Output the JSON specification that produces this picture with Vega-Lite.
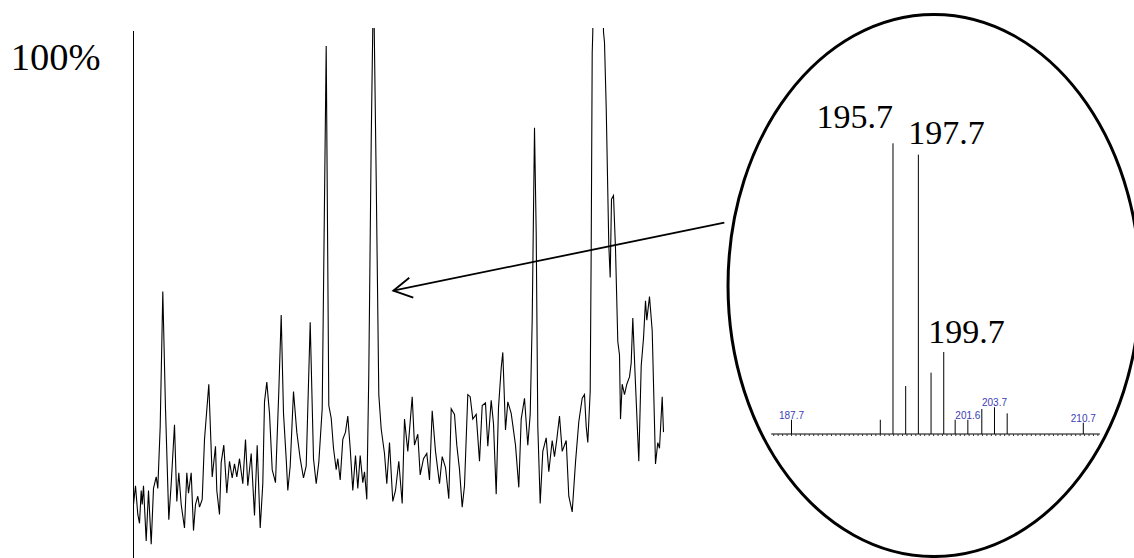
{
  "$schema": "https://vega.github.io/schema/vega-lite/v6.json",
  "width": 1134,
  "height": 530,
  "autosize": "none",
  "padding": {"top": 28, "left": 0, "right": 0, "bottom": 0},
  "background": "white",
  "config": {"view": {"stroke": null}},
  "datasets": {
    "chrom": [
      {"t":0,"i":9.3},{"t":0.2,"i":12.9},{"t":0.43,"i":7.4},{"t":0.6,"i":5.7},{"t":0.77,"i":12.0},{"t":0.87,"i":9.3},{"t":1.0,"i":12.9},{"t":1.27,"i":2.3},{"t":1.5,"i":12.0},{"t":1.77,"i":1.7},{"t":2.0,"i":12.4},{"t":2.27,"i":14.6},{"t":2.43,"i":12.4},{"t":2.67,"i":24.3},{"t":2.93,"i":50.2},{"t":3.2,"i":27.7},{"t":3.53,"i":6.4},{"t":3.77,"i":13.3},{"t":4.1,"i":24.6},{"t":4.33,"i":9.9},{"t":4.53,"i":15.4},{"t":4.77,"i":9.3},{"t":5.1,"i":4.8},{"t":5.33,"i":15.4},{"t":5.5,"i":11.5},{"t":5.77,"i":15.4},{"t":6.0,"i":4.3},{"t":6.2,"i":9.3},{"t":6.43,"i":10.9},{"t":6.6,"i":8.8},{"t":6.87,"i":10.3},{"t":7.1,"i":21.8},{"t":7.53,"i":32.4},{"t":7.87,"i":14.6},{"t":8.2,"i":20.5},{"t":8.33,"i":12.0},{"t":8.6,"i":7.4},{"t":8.77,"i":17.4},{"t":9.03,"i":20.7},{"t":9.33,"i":11.5},{"t":9.6,"i":17.6},{"t":9.87,"i":14.4},{"t":10.1,"i":17.1},{"t":10.33,"i":14.6},{"t":10.6,"i":18.1},{"t":10.93,"i":13.3},{"t":11.2,"i":21.8},{"t":11.43,"i":12.9},{"t":11.77,"i":19.1},{"t":12.1,"i":7.2},{"t":12.37,"i":20.7},{"t":12.67,"i":4.8},{"t":12.93,"i":13.3},{"t":13.1,"i":29.0},{"t":13.33,"i":32.8},{"t":13.6,"i":26.8},{"t":13.87,"i":16.0},{"t":14.2,"i":13.5},{"t":14.53,"i":31.0},{"t":14.77,"i":45.7},{"t":15.0,"i":26.8},{"t":15.27,"i":18.1},{"t":15.43,"i":12.0},{"t":15.67,"i":16.7},{"t":16.0,"i":31.0},{"t":16.33,"i":23.2},{"t":16.67,"i":18.1},{"t":17.0,"i":14.4},{"t":17.27,"i":16.7},{"t":17.67,"i":44.3},{"t":18.0,"i":18.1},{"t":18.27,"i":13.3},{"t":18.53,"i":17.4},{"t":18.87,"i":27.7},{"t":19.27,"i":97.3},{"t":19.53,"i":28.3},{"t":19.77,"i":25.9},{"t":20.0,"i":20.1},{"t":20.27,"i":16.0},{"t":20.43,"i":18.1},{"t":20.67,"i":14.0},{"t":20.93,"i":21.8},{"t":21.2,"i":23.2},{"t":21.43,"i":26.3},{"t":21.67,"i":20.1},{"t":21.93,"i":12.0},{"t":22.2,"i":18.7},{"t":22.43,"i":12.4},{"t":22.67,"i":18.7},{"t":22.93,"i":13.5},{"t":23.1,"i":15.6},{"t":23.33,"i":10.3},{"t":23.53,"i":34.4},{"t":23.77,"i":78.9},{"t":23.95,"i":104},{"t":24.05,"i":104},{"t":24.27,"i":71.9},{"t":24.53,"i":30.4},{"t":24.77,"i":23.8},{"t":25.1,"i":19.1},{"t":25.33,"i":13.3},{"t":25.6,"i":21.2},{"t":25.93,"i":9.9},{"t":26.2,"i":12.0},{"t":26.53,"i":17.6},{"t":26.87,"i":9.5},{"t":27.1,"i":25.7},{"t":27.43,"i":19.5},{"t":27.87,"i":30.0},{"t":28.1,"i":20.7},{"t":28.43,"i":22.8},{"t":28.67,"i":15.0},{"t":29.0,"i":18.1},{"t":29.33,"i":19.1},{"t":29.6,"i":14.0},{"t":29.87,"i":27.3},{"t":30.2,"i":19.5},{"t":30.6,"i":13.3},{"t":30.87,"i":18.5},{"t":31.2,"i":16.4},{"t":31.53,"i":10.4},{"t":31.77,"i":27.7},{"t":32.1,"i":26.6},{"t":32.33,"i":20.7},{"t":32.6,"i":16.0},{"t":32.87,"i":8.8},{"t":33.1,"i":12.9},{"t":33.43,"i":30.4},{"t":33.67,"i":30.0},{"t":33.93,"i":25.7},{"t":34.27,"i":26.6},{"t":34.6,"i":17.6},{"t":34.87,"i":28.3},{"t":35.2,"i":28.8},{"t":35.43,"i":20.5},{"t":35.77,"i":29.3},{"t":36.0,"i":24.8},{"t":36.27,"i":11.3},{"t":36.5,"i":27.9},{"t":36.77,"i":35.5},{"t":36.93,"i":38.5},{"t":37.2,"i":23.6},{"t":37.43,"i":29.0},{"t":37.77,"i":26.8},{"t":38.2,"i":20.7},{"t":38.53,"i":12.6},{"t":38.77,"i":25.7},{"t":39.1,"i":29.7},{"t":39.43,"i":20.7},{"t":39.67,"i":26.6},{"t":39.87,"i":44.7},{"t":40.1,"i":81.6},{"t":40.27,"i":61.6},{"t":40.43,"i":24.3},{"t":40.67,"i":9.5},{"t":40.93,"i":19.5},{"t":41.27,"i":22.1},{"t":41.53,"i":15.6},{"t":41.87,"i":21.6},{"t":42.1,"i":18.5},{"t":42.33,"i":21.8},{"t":42.6,"i":26.3},{"t":42.87,"i":19.5},{"t":43.27,"i":21.6},{"t":43.53,"i":10.9},{"t":43.87,"i":7.9},{"t":44.2,"i":17.4},{"t":44.53,"i":25.2},{"t":44.87,"i":29.7},{"t":45.1,"i":30.4},{"t":45.27,"i":24.3},{"t":45.43,"i":21.2},{"t":45.67,"i":31.0},{"t":45.77,"i":58.4},{"t":45.87,"i":95.9},{"t":45.93,"i":100},{"t":46.0,"i":115},{"t":46.9,"i":115},{"t":47.0,"i":100},{"t":47.1,"i":98.0},{"t":47.27,"i":85.6},{"t":47.53,"i":59.1},{"t":47.67,"i":52.9},{"t":47.8,"i":67.9},{"t":48.0,"i":68.6},{"t":48.2,"i":58.4},{"t":48.43,"i":40.6},{"t":48.6,"i":38.0},{"t":48.7,"i":25.7},{"t":48.87,"i":32.4},{"t":49.1,"i":30.4},{"t":49.33,"i":32.4},{"t":49.6,"i":33.8},{"t":49.77,"i":36.5},{"t":49.93,"i":45.1},{"t":50.2,"i":32.4},{"t":50.53,"i":17.6},{"t":50.77,"i":35.9},{"t":51.0,"i":41.2},{"t":51.2,"i":48.4},{"t":51.33,"i":44.7},{"t":51.6,"i":49.2},{"t":51.87,"i":42.7},{"t":52.2,"i":17.1},{"t":52.43,"i":21.2},{"t":52.6,"i":20.1},{"t":52.87,"i":30.0},{"t":53.0,"i":23.2}
    ],
    "arrow": [
      {"part":"shaft","ord":1,"t":25.98,"i":50.35},
      {"part":"shaft","ord":2,"t":59.08,"i":63.4},
      {"part":"head","ord":1,"t":27.58,"i":52.84},
      {"part":"head","ord":2,"t":25.98,"i":50.35},
      {"part":"head","ord":3,"t":27.98,"i":49.0}
    ],
    "spectrum": [
      {"mz":187.7,"ab":4.9},{"mz":194.7,"ab":4.9},{"mz":195.7,"ab":100},{"mz":196.7,"ab":16.5},{"mz":197.7,"ab":96.1},{"mz":198.7,"ab":21.1},{"mz":199.7,"ab":28.2},{"mz":200.6,"ab":4.9},{"mz":201.6,"ab":4.9},{"mz":202.7,"ab":8.6},{"mz":203.7,"ab":9.2},{"mz":204.7,"ab":7.1},{"mz":210.7,"ab":3.9}
    ],
    "minorTicks": [
      {"mz":186.3},{"mz":186.65},{"mz":187},{"mz":187.35},{"mz":187.7},{"mz":188.05},{"mz":188.4},{"mz":188.75},{"mz":189.1},{"mz":189.45},{"mz":189.8},{"mz":190.15},{"mz":190.5},{"mz":190.85},{"mz":191.2},{"mz":191.55},{"mz":191.9},{"mz":192.25},{"mz":192.6},{"mz":192.95},{"mz":193.3},{"mz":193.65},{"mz":194},{"mz":194.35},{"mz":194.7},{"mz":195.05},{"mz":195.4},{"mz":195.75},{"mz":196.1},{"mz":196.45},{"mz":196.8},{"mz":197.15},{"mz":197.5},{"mz":197.85},{"mz":198.2},{"mz":198.55},{"mz":198.9},{"mz":199.25},{"mz":199.6},{"mz":199.95},{"mz":200.3},{"mz":200.65},{"mz":201},{"mz":201.35},{"mz":201.7},{"mz":202.05},{"mz":202.4},{"mz":202.75},{"mz":203.1},{"mz":203.45},{"mz":203.8},{"mz":204.15},{"mz":204.5},{"mz":204.85},{"mz":205.2},{"mz":205.55},{"mz":205.9},{"mz":206.25},{"mz":206.6},{"mz":206.95},{"mz":207.3},{"mz":207.65},{"mz":208},{"mz":208.35},{"mz":208.7},{"mz":209.05},{"mz":209.4},{"mz":209.75},{"mz":210.1},{"mz":210.45},{"mz":210.8},{"mz":211.15},{"mz":211.5},{"mz":211.85}
    ]
  },
  "layer": [
    {
      "layer": [
        {
          "data": {"name": "chrom"},
          "mark": {"type": "line", "color": "black", "strokeWidth": 1.1, "clip": true},
          "encoding": {
            "x": {"field": "t", "type": "quantitative", "axis": null, "scale": {"domain": [0, 53], "range": [133.5, 663.5], "nice": false, "zero": false}},
            "y": {"field": "i", "type": "quantitative", "axis": null, "scale": {"domain": [0, 100], "range": [525, 4], "nice": false, "zero": false}}
          }
        },
        {
          "data": {"values": [{}]},
          "mark": {"type": "rule", "color": "black", "strokeWidth": 1},
          "encoding": {
            "x": {"datum": 0, "type": "quantitative", "axis": null},
            "y": {"datum": 100.2, "type": "quantitative", "axis": null},
            "y2": {"datum": -1}
          }
        },
        {
          "data": {"values": [{}]},
          "mark": {"type": "text", "text": "100%", "font": "Liberation Serif", "fontSize": 38.5, "align": "left", "baseline": "alphabetic", "color": "black"},
          "encoding": {
            "x": {"datum": -12.28, "type": "quantitative", "axis": null},
            "y": {"datum": 92.8, "type": "quantitative", "axis": null}
          }
        },
        {
          "data": {"name": "arrow"},
          "mark": {"type": "line", "color": "black", "strokeWidth": 1.8},
          "encoding": {
            "x": {"field": "t", "type": "quantitative", "axis": null},
            "y": {"field": "i", "type": "quantitative", "axis": null},
            "detail": {"field": "part"},
            "order": {"field": "ord"}
          }
        }
      ]
    },
    {
      "layer": [
        {
          "data": {"name": "spectrum"},
          "mark": {"type": "rule", "color": "black", "strokeWidth": 1},
          "encoding": {
            "x": {"field": "mz", "type": "quantitative", "axis": null,
              "scale": {"domain": [186, 212], "range": [769.93, 1099.8], "nice": false, "zero": false}},
            "y": {"field": "ab", "type": "quantitative", "axis": null, "scale": {"domain": [0, 100], "range": [406, 115.3], "nice": false, "zero": false}},
            "y2": {"datum": 0}
          }
        },
        {
          "data": {"values": [{}]},
          "mark": {"type": "rule", "color": "black", "strokeWidth": 1},
          "encoding": {
            "x": {"datum": 186.1, "type": "quantitative", "axis": null},
            "x2": {"datum": 212},
            "y": {"datum": 0, "type": "quantitative", "axis": null}
          }
        },
        {
          "data": {"name": "minorTicks"},
          "mark": {"type": "rule", "color": "#333333", "strokeWidth": 1},
          "encoding": {
            "x": {"field": "mz", "type": "quantitative", "axis": null},
            "y": {"datum": 0, "type": "quantitative", "axis": null},
            "y2": {"datum": -0.7}
          }
        },
        {
          "data": {"name": "spectrum"},
          "transform": [{"filter": "datum.mz == 195.7"}],
          "mark": {"type": "text", "font": "Liberation Serif", "fontSize": 34, "align": "right", "baseline": "alphabetic", "dy": -15, "color": "black"},
          "encoding": {
            "x": {"field": "mz", "type": "quantitative", "axis": null},
            "y": {"field": "ab", "type": "quantitative", "axis": null},
            "text": {"field": "mz", "type": "quantitative", "format": ".1f"}
          }
        },
        {
          "data": {"name": "spectrum"},
          "transform": [{"filter": "datum.mz == 197.7"}],
          "mark": {"type": "text", "font": "Liberation Serif", "fontSize": 34, "align": "left", "baseline": "alphabetic", "dx": -10, "dy": -10.5, "color": "black"},
          "encoding": {
            "x": {"field": "mz", "type": "quantitative", "axis": null},
            "y": {"field": "ab", "type": "quantitative", "axis": null},
            "text": {"field": "mz", "type": "quantitative", "format": ".1f"}
          }
        },
        {
          "data": {"name": "spectrum"},
          "transform": [{"filter": "datum.mz == 199.7"}],
          "mark": {"type": "text", "font": "Liberation Serif", "fontSize": 34, "align": "left", "baseline": "alphabetic", "dx": -15.5, "dy": -9, "color": "black"},
          "encoding": {
            "x": {"field": "mz", "type": "quantitative", "axis": null},
            "y": {"field": "ab", "type": "quantitative", "axis": null},
            "text": {"field": "mz", "type": "quantitative", "format": ".1f"}
          }
        },
        {
          "data": {"name": "spectrum"},
          "transform": [{"filter": "datum.mz == 187.7 || datum.mz == 201.6 || datum.mz == 203.7 || datum.mz == 210.7"}],
          "mark": {"type": "text", "font": "Liberation Sans", "fontSize": 10, "align": "center", "baseline": "alphabetic", "dy": -1, "color": "#3c3cb4"},
          "encoding": {
            "x": {"field": "mz", "type": "quantitative", "axis": null},
            "y": {"field": "ab", "type": "quantitative", "axis": null},
            "text": {"field": "mz", "type": "quantitative", "format": ".1f"}
          }
        },
        {
          "data": {"values": [{}]},
          "mark": {"type": "point", "shape": "M 0 -1 C 0.4197 -1 0.76 -0.5523 0.76 0 C 0.76 0.5523 0.4197 1 0 1 C -0.4197 1 -0.76 0.5523 -0.76 0 C -0.76 -0.5523 -0.4197 -1 0 -1 Z", "size": 293764, "filled": false, "stroke": "black", "strokeWidth": 3, "opacity": 1},
          "encoding": {
            "x": {"datum": 198.93, "type": "quantitative", "axis": null},
            "y": {"datum": 51.08, "type": "quantitative", "axis": null}
          }
        }
      ]
    }
  ],
  "resolve": {"scale": {"x": "independent", "y": "independent"}, "axis": {"x": "independent", "y": "independent"}}
}
